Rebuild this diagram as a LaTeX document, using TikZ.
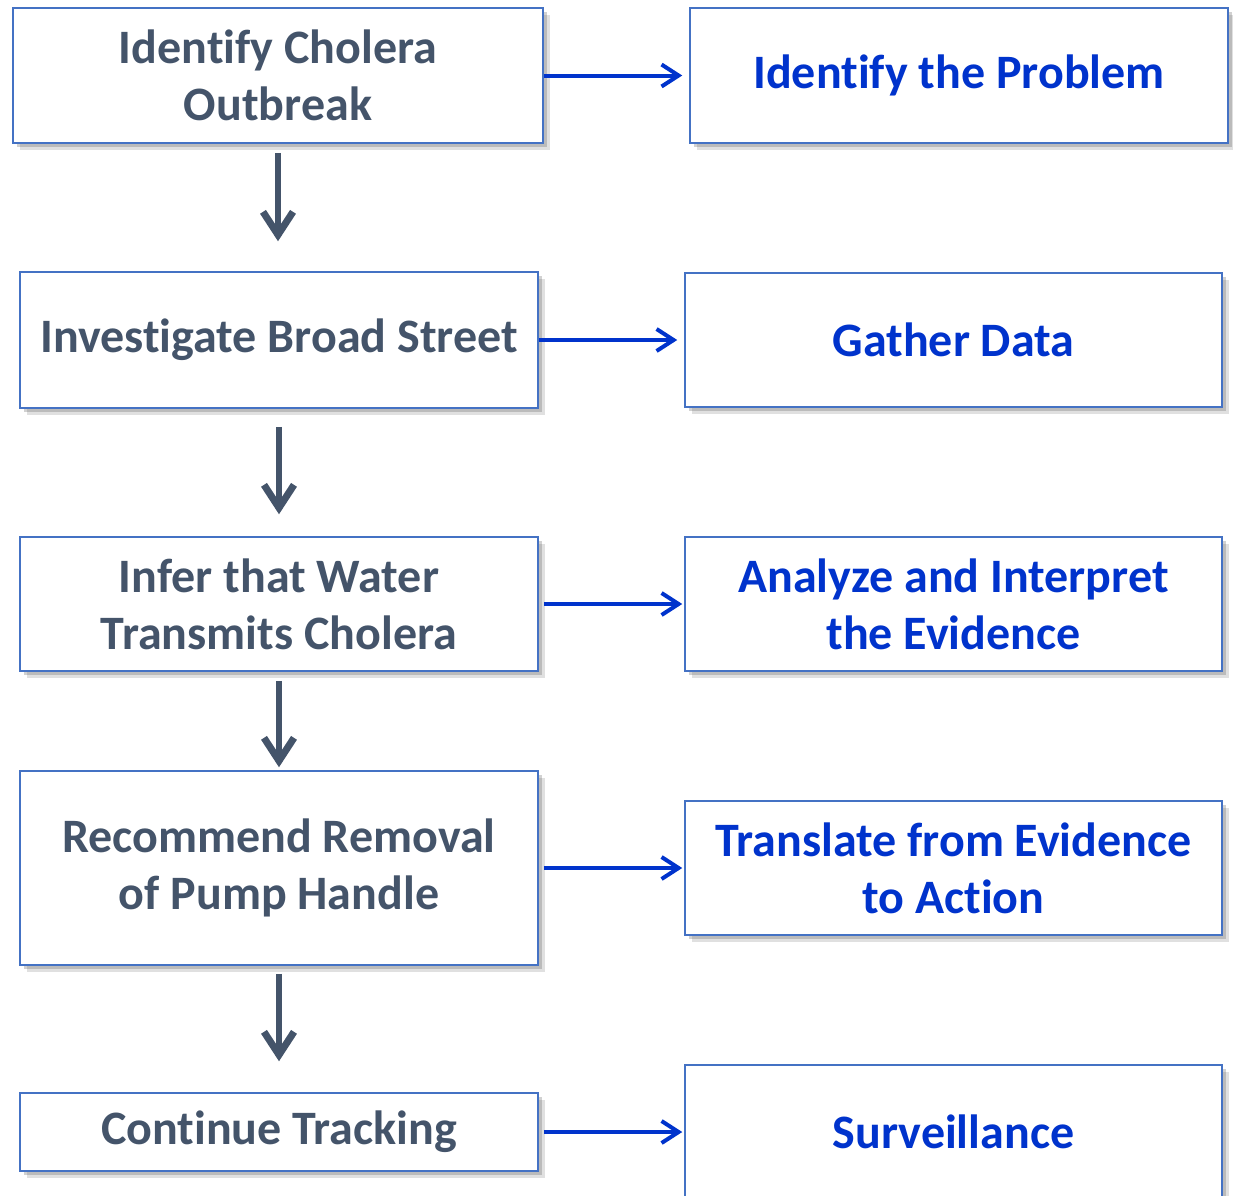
\documentclass[tikz,border=0pt]{standalone}
\usepackage{fontspec}
\setmainfont{Carlito}[Ligatures=NoCommon]
\usetikzlibrary{shadows,arrows.meta}

\definecolor{slate}{HTML}{44546A}
\definecolor{boxline}{HTML}{4472C4}
\definecolor{deepblue}{HTML}{0033CC}

\tikzset{
	box/.style={draw=boxline, line width=1.5bp, fill=white, align=center,
		font=\fontsize{48bp}{57bp}\selectfont\bfseries,
		drop shadow={shadow xshift=7bp, shadow yshift=-7bp, opacity=0.2, fill=black!60},
		drop shadow={shadow xshift=4bp, shadow yshift=-4bp, opacity=0.3, fill=black!60}},
	leftbox/.style={box, text=slate, minimum width=518bp},
	rightbox/.style={box, text=deepblue, minimum width=537bp, minimum height=134bp},
	down/.style={draw=slate, line width=6bp, -{Straight Barb[length=23bp, width=30bp, line width=7bp]}},
	across/.style={draw=deepblue, line width=4bp, -{Straight Barb[length=17bp, width=22bp, line width=4bp]}}
}

\begin{document}
\begin{tikzpicture}[x=1bp, y=-1bp]
	\useasboundingbox (0,0) rectangle (1233,1196);

	\node (l1) [leftbox, minimum width=530bp, minimum height=135bp] at (278,75.5) {Identify Cholera\\Outbreak};
	\node (l2) [leftbox, minimum height=136bp] at (279,340) {Investigate Broad Street};
	\node (l3) [leftbox, minimum height=134bp] at (279,604) {Infer that Water\\Transmits Cholera};
	\node (l4) [leftbox, minimum height=194bp] at (279,868) {Recommend Removal\\of Pump Handle};
	\node (l5) [leftbox, minimum height=78bp] at (279,1132) {Continue Tracking};

	\node (r1) [rightbox, minimum width=538bp, minimum height=135bp] at (959,75.5) {Identify the Problem};
	\node (r2) [rightbox] at (953.5,340) {Gather Data};
	\node (r3) [rightbox] at (953.5,604) {Analyze and Interpret\\the Evidence};
	\node (r4) [rightbox] at (953.5,868) {Translate from Evidence\\to Action};
	\node (r5) [rightbox] at (953.5,1132) {Surveillance};

	\draw[down, shorten <=9bp, shorten >=30bp] (l1.south) -- (l1.south |- l2.north);
	\draw[down, shorten <=18bp, shorten >=22bp] (l2.south) -- (l3.north);
	\draw[down, shorten <=9bp, shorten >=3bp] (l3.south) -- (l4.north);
	\draw[down, shorten <=8bp, shorten >=31bp] (l4.south) -- (l5.north);

	\draw[across, shorten >=7bp] (l1.east) -- (r1.west);
	\draw[across, shorten >=7bp] (l2.east) -- (r2.west);
	\draw[across, shorten <=5bp, shorten >=2bp] (l3.east) -- (r3.west);
	\draw[across, shorten <=5bp, shorten >=2bp] (l4.east) -- (r4.west);
	\draw[across, shorten <=5bp, shorten >=2bp] (l5.east) -- (r5.west);
\end{tikzpicture}
\end{document}
